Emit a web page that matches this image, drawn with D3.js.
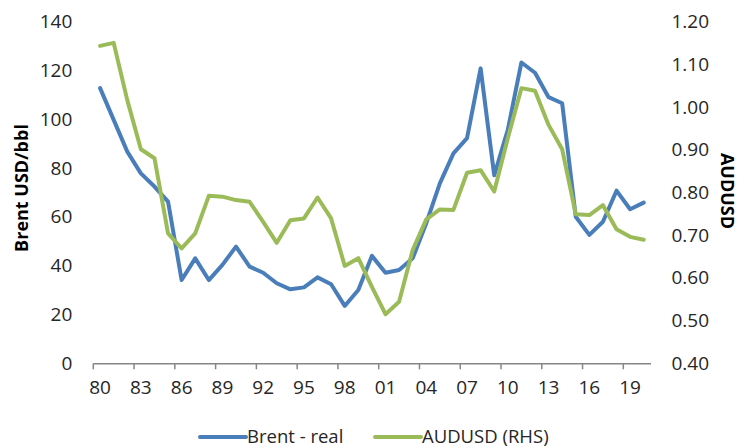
<!DOCTYPE html>
<html>
<head>
<meta charset="utf-8">
<script src="https://cdnjs.cloudflare.com/ajax/libs/d3/7.8.5/d3.min.js"></script>
<style>
  html, body { margin: 0; padding: 0; background: #ffffff; }
  svg { display: block; }
  text { font-family: "Open Sans", "Noto Sans", sans-serif; }
</style>
</head>
<body>
<svg id="chart" width="741" height="448"></svg>
<script>
// Years 1980–2020
const years = d3.range(1980, 2021);

// Real Brent crude price, USD per barrel (left axis)
const brentReal = [
  112.7, 99.7, 86.7, 77.8, 72.4, 66.2, 34.1, 43.0, 34.1, 40.3,
  47.8, 39.6, 37.1, 32.8, 30.3, 31.1, 35.2, 32.4, 23.5, 30.0,
  44.0, 37.1, 38.2, 43.0, 57.4, 73.7, 86.0, 92.2, 120.8, 77.0,
  95.6, 123.2, 119.0, 109.0, 106.5, 60.0, 52.6, 58.0, 70.7, 63.1,
  65.8
];

// AUD/USD exchange rate (right axis)
const audusd = [
  1.143, 1.150, 1.016, 0.901, 0.880, 0.704, 0.669, 0.704, 0.792, 0.790,
  0.782, 0.778, 0.731, 0.682, 0.735, 0.739, 0.788, 0.739, 0.628, 0.646,
  0.579, 0.515, 0.544, 0.665, 0.737, 0.760, 0.759, 0.846, 0.852, 0.802,
  0.927, 1.044, 1.038, 0.958, 0.901, 0.749, 0.747, 0.770, 0.714, 0.696,
  0.689
];

// Axis ticks
const leftTicks = [0, 20, 40, 60, 80, 100, 120, 140];
const rightTicks = [0.4, 0.5, 0.6, 0.7, 0.8, 0.9, 1.0, 1.1, 1.2];
const xTickYears = years.filter((y, i) => i % 3 === 0);

const seriesNames = ["Brent - real", "AUDUSD (RHS)"];
const colors = ["#4A7EBB", "#9BBB59"];

const svg = d3.select("#chart");

const plot = { left: 93.3, right: 650.5, top: 21.5, bottom: 363.3 };

const x = d3.scaleBand().domain(years).range([plot.left, plot.right]).padding(0);
const bw = x.bandwidth();
const cx = d => x(d) + bw / 2;

const yL = d3.scaleLinear().domain([0, 140]).range([plot.bottom, plot.top]);
const yR = d3.scaleLinear().domain([0.4, 1.2]).range([plot.bottom, plot.top]);

// Left axis labels
const leftAxis = svg.append("g")
  .attr("transform", `translate(${plot.left - 1},0)`)
  .call(d3.axisLeft(yL).tickValues(leftTicks).tickSize(0).tickPadding(20).tickFormat(d3.format("d")));
leftAxis.select(".domain").remove();
leftAxis.selectAll("text")
  .attr("font-family", "Open Sans")
  .attr("font-size", 19)
  .attr("fill", "#262626");

// Right axis labels
const rightAxis = svg.append("g")
  .attr("transform", `translate(${plot.right},0)`)
  .call(d3.axisRight(yR).tickValues(rightTicks).tickSize(0).tickPadding(21).tickFormat(d3.format(".2f")));
rightAxis.select(".domain").remove();
rightAxis.selectAll("text")
  .attr("font-family", "Open Sans")
  .attr("font-size", 19)
  .attr("fill", "#262626");

// Bottom category axis: ticks on category boundaries, labels centred
const bottomAxis = svg.append("g")
  .attr("transform", `translate(0,${plot.bottom})`)
  .call(d3.axisBottom(x).tickValues(xTickYears).tickSize(6).tickSizeOuter(0).tickPadding(11)
    .tickFormat(d => String(d % 100).padStart(2, "0")));
bottomAxis.select(".domain")
  .attr("stroke", "#868686")
  .attr("stroke-width", 1.5);
bottomAxis.selectAll(".tick line")
  .attr("stroke", "#868686")
  .attr("stroke-width", 1.5)
  .attr("x1", -bw / 2)
  .attr("x2", -bw / 2);
bottomAxis.selectAll("text")
  .attr("font-family", "Open Sans")
  .attr("font-size", 19)
  .attr("fill", "#262626");

// Axis titles
svg.append("text")
  .attr("transform", "translate(28,188) rotate(-90)")
  .attr("text-anchor", "middle")
  .attr("font-family", "Open Sans")
  .attr("font-weight", "bold")
  .attr("font-size", 18)
  .attr("fill", "#000")
  .text("Brent USD/bbl");

svg.append("text")
  .attr("transform", "translate(721,191) rotate(90)")
  .attr("text-anchor", "middle")
  .attr("font-family", "Open Sans")
  .attr("font-weight", "bold")
  .attr("font-size", 18)
  .attr("fill", "#000")
  .text("AUDUSD");

// Series lines
const lineL = d3.line().x((d, i) => cx(years[i])).y(d => yL(d));
const lineR = d3.line().x((d, i) => cx(years[i])).y(d => yR(d));

svg.append("path")
  .datum(brentReal)
  .attr("d", lineL)
  .attr("fill", "none")
  .attr("stroke", colors[0])
  .attr("stroke-width", 4)
  .attr("stroke-linejoin", "round")
  .attr("stroke-linecap", "round");

svg.append("path")
  .datum(audusd)
  .attr("d", lineR)
  .attr("fill", "none")
  .attr("stroke", colors[1])
  .attr("stroke-width", 4)
  .attr("stroke-linejoin", "round")
  .attr("stroke-linecap", "round");

// Legend
const legendItems = [
  { name: seriesNames[0], color: colors[0], x: 200 },
  { name: seriesNames[1], color: colors[1], x: 375 }
];
const legend = svg.append("g").attr("transform", "translate(0,437)");
legendItems.forEach(it => {
  legend.append("line")
    .attr("x1", it.x).attr("x2", it.x + 46)
    .attr("y1", 0).attr("y2", 0)
    .attr("stroke", it.color)
    .attr("stroke-width", 4)
    .attr("stroke-linecap", "round");
  legend.append("text")
    .attr("x", it.x + 47)
    .attr("y", 5.5)
    .attr("font-family", "Open Sans")
    .attr("font-size", 18.5)
    .attr("fill", "#262626")
    .text(it.name);
});
</script>
</body>
</html>
